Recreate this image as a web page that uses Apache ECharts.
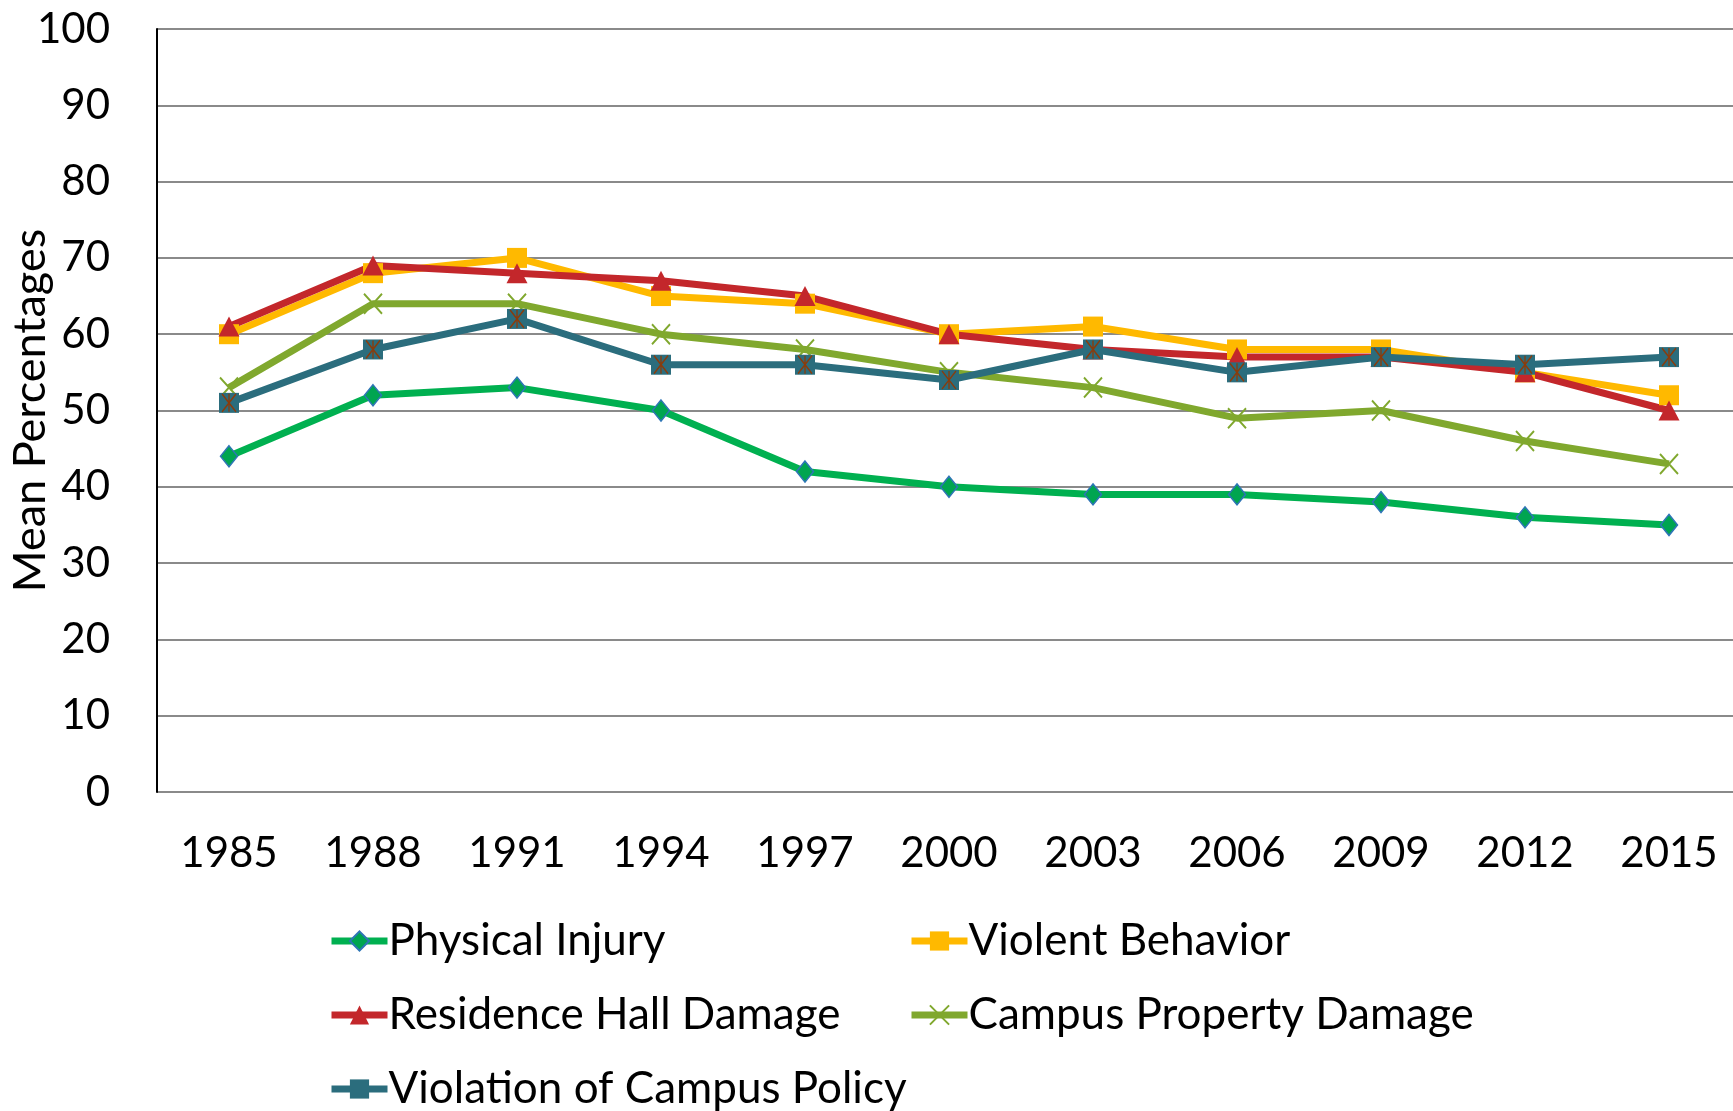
<!DOCTYPE html>
<html>
<head>
<meta charset="utf-8">
<script src="https://cdn.jsdelivr.net/npm/echarts@6/dist/echarts.min.js"></script>
<style>
  html, body { margin: 0; padding: 0; background: #fff; }
  #chart { width: 1733px; height: 1111px; }
</style>
</head>
<body>
<div id="chart"></div>
<script>
// categories
var years = ['1985', '1988', '1991', '1994', '1997', '2000', '2003', '2006', '2009', '2012', '2015']
// series values (mean percentages)
var physicalInjury = [44, 52, 53, 50, 42, 40, 39, 39, 38, 36, 35]
var violentBehavior = [60, 68, 70, 65, 64, 60, 61, 58, 58, 55, 52]
var residenceHallDamage = [61, 69, 68, 67, 65, 60, 58, 57, 57, 55, 50]
var campusPropertyDamage = [53, 64, 64, 60, 58, 55, 53, 49, 50, 46, 43]
var violationOfPolicy = [51, 58, 62, 56, 56, 54, 58, 55, 57, 56, 57]

var FONT = 'Lato'
var crossPath = 'path://M0,0L10,10M10,0L0,10'
var starPath = 'path://M0,0L10,10M10,0L0,10M5,0L5,10'

var chart = echarts.init(document.getElementById('chart'))

// 通用折线配置
function lineSeries (name, data, color, symbol, size, itemStyle) {
    return {
        name: name,
        type: 'line',
        data: data,
        symbol: symbol,
        symbolSize: size,
        showAllSymbol: true,
        lineStyle: { color: color, width: 7 },
        itemStyle: itemStyle || { color: color },
        emphasis: { disabled: true },
        animation: false
    }
}

// 单项图例（位置固定，保持列对齐）
function legendItem (name, left, top) {
    return {
        left: left, top: top, padding: 0,
        itemWidth: 56, itemHeight: 24,
        lineStyle: { width: 7 },
        textStyle: { fontSize: 44, color: '#000', fontFamily: FONT, padding: [0, 0, 0, -4] },
        data: [name]
    }
}

chart.setOption({
    textStyle: { fontFamily: FONT },
    grid: { left: 157, top: 29, bottom: 319, right: -8, outerBoundsMode: 'none' },
    xAxis: {
        type: 'category',
        boundaryGap: true,
        data: years,
        axisLine: { show: false },
        axisTick: { show: false },
        axisLabel: { fontSize: 42, color: '#000', fontFamily: FONT, margin: 40 }
    },
    yAxis: {
        type: 'value',
        min: 0,
        max: 100,
        interval: 10,
        name: 'Mean Percentages',
        nameLocation: 'middle',
        nameGap: 104,
        nameRotate: 90,
        nameMoveOverlap: false,
        nameTextStyle: { fontSize: 45, color: '#000', fontFamily: FONT },
        axisLine: { show: true, lineStyle: { color: '#000', width: 2 } },
        axisTick: { show: false },
        axisLabel: { fontSize: 42, color: '#000', fontFamily: FONT, margin: 47 },
        splitLine: { lineStyle: { color: '#8a8a8a', width: 2 } }
    },
    legend: [
        legendItem('Physical Injury', 328, 919),
        legendItem('Violent Behavior', 908, 919),
        legendItem('Residence Hall Damage', 328, 993),
        legendItem('Campus Property Damage', 908, 993),
        legendItem('Violation of Campus Policy', 328, 1067)
    ],
    series: [
        lineSeries('Physical Injury', physicalInjury, '#00b050', 'diamond', [17, 21],
            { color: '#00a550', borderColor: '#2e75b6', borderWidth: 1.5 }),
        lineSeries('Violent Behavior', violentBehavior, '#ffb900', 'rect', 20, null),
        lineSeries('Residence Hall Damage', residenceHallDamage, '#c3272b', 'triangle', [21, 20], null),
        lineSeries('Campus Property Damage', campusPropertyDamage, '#80a82e', crossPath, [18, 20],
            { color: 'none', borderColor: '#80a82e', borderWidth: 2 }),
        lineSeries('Violation of Campus Policy', violationOfPolicy, '#2b6d7d', 'rect', 20, null),
        // 方块上的星号标记
        {
            name: 'Violation of Campus Policy',
            type: 'line',
            data: violationOfPolicy,
            symbol: starPath,
            symbolSize: [14, 18],
            lineStyle: { width: 0 },
            itemStyle: { color: 'none', borderColor: '#8a3c0c', borderWidth: 1.5 },
            emphasis: { disabled: true },
            animation: false
        }
    ]
})
</script>
</body>
</html>
